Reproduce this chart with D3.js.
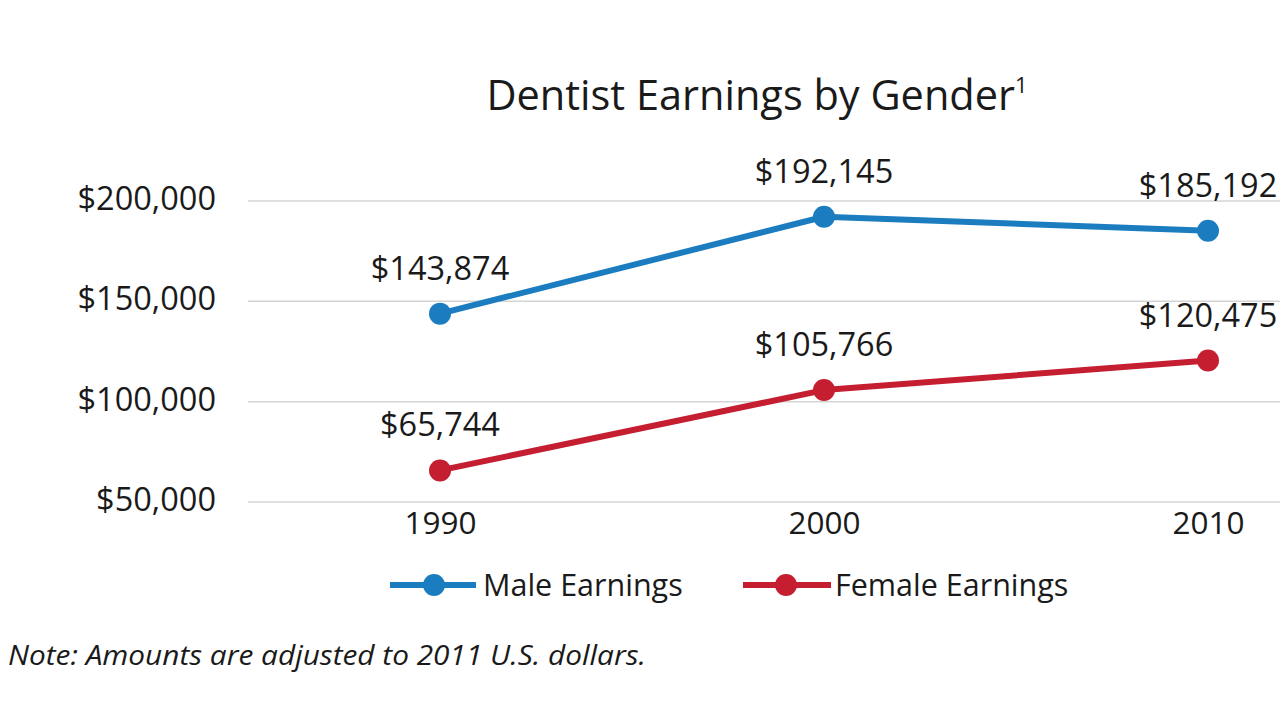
<!DOCTYPE html>
<html><head><meta charset="utf-8">
<script src="https://cdn.jsdelivr.net/npm/d3@7"></script>
<style>
html,body{margin:0;padding:0;background:#fff;}
svg{display:block;font-family:"Open Sans","Noto Sans",sans-serif;}
</style></head>
<body>
<svg id="c" width="1280" height="720"></svg>
<script>
const years = ["1990", "2000", "2010"];
const maleEarnings = [143874, 192145, 185192];
const femaleEarnings = [65744, 105766, 120475];
const yTicks = [50000, 100000, 150000, 200000];
const seriesNames = ["Male Earnings", "Female Earnings"];
const seriesColors = ["#1b7dc0", "#c41e30"];

const svg = d3.select("#c");
const x = d3.scalePoint().domain(years).range([248, 1400]).padding(0.5);
const y = d3.scaleLinear().domain([50000, 200000]).range([502, 201]);
const fmt = v => "$" + d3.format(",")(v);

// title
svg.append("text").attr("x", 757).attr("y", 110).attr("text-anchor", "middle")
  .attr("font-size", 41.5).attr("fill", "#1a1a1a")
  .html('Dentist Earnings by Gender<tspan font-size="22" dy="-17">1</tspan>');

// gridlines
svg.append("g").selectAll("line").data(yTicks).join("line")
  .attr("x1", 248).attr("x2", 1280)
  .attr("y1", d => y(d)).attr("y2", d => y(d))
  .attr("stroke", "#d4d4d4").attr("stroke-width", 1.5);

// y axis
const yAxis = d3.axisLeft(y).tickValues(yTicks).tickFormat(fmt).tickSize(0).tickPadding(0);
const gy = svg.append("g").attr("transform", "translate(216,-2)").call(yAxis);
gy.select(".domain").remove();
gy.selectAll("text").attr("font-size", 32.5).attr("fill", "#1a1a1a")
  .attr("font-family", '"Open Sans","Noto Sans",sans-serif');

// x axis
const xAxis = d3.axisBottom(x).tickSize(0).tickPadding(0);
const gx = svg.append("g").attr("transform", "translate(0,512)").call(xAxis);
gx.select(".domain").remove();
gx.selectAll("text").attr("font-size", 31.5).attr("fill", "#1a1a1a")
  .attr("font-family", '"Open Sans","Noto Sans",sans-serif');

const series = [maleEarnings, femaleEarnings];
const line = d3.line().x((d, i) => x(years[i])).y(d => y(d));

series.forEach((vals, si) => {
  const g = svg.append("g");
  g.append("path").attr("d", line(vals)).attr("fill", "none")
    .attr("stroke", seriesColors[si]).attr("stroke-width", 6).attr("stroke-linejoin", "round");
  g.selectAll("circle").data(vals).join("circle")
    .attr("cx", (d, i) => x(years[i])).attr("cy", d => y(d)).attr("r", 11)
    .attr("fill", seriesColors[si]);
  g.selectAll("text").data(vals).join("text")
    .attr("x", (d, i) => x(years[i])).attr("y", d => y(d) - 34)
    .attr("text-anchor", "middle").attr("font-size", 32.5).attr("fill", "#1a1a1a")
    .text(d => fmt(d));
});

// legend
const legend = [{x0: 390, x1: 476, cx: 434, tx: 483}, {x0: 743, x1: 831, cx: 786, tx: 835}];
legend.forEach((L, i) => {
  const g = svg.append("g");
  g.append("line").attr("x1", L.x0).attr("x2", L.x1).attr("y1", 585).attr("y2", 585)
    .attr("stroke", seriesColors[i]).attr("stroke-width", 6);
  g.append("circle").attr("cx", L.cx).attr("cy", 585).attr("r", 11).attr("fill", seriesColors[i]);
  g.append("text").attr("x", L.tx).attr("y", 585).attr("dy", "0.35em")
    .attr("font-size", 30.5).attr("fill", "#1a1a1a").text(seriesNames[i]);
});

// note
svg.append("text").attr("x", 8).attr("y", 665).attr("font-size", 28).attr("font-style", "italic")
  .attr("fill", "#1a1a1a").attr("textLength", 638).attr("lengthAdjust", "spacingAndGlyphs")
  .text("Note: Amounts are adjusted to 2011 U.S. dollars.");
</script>
</body></html>
